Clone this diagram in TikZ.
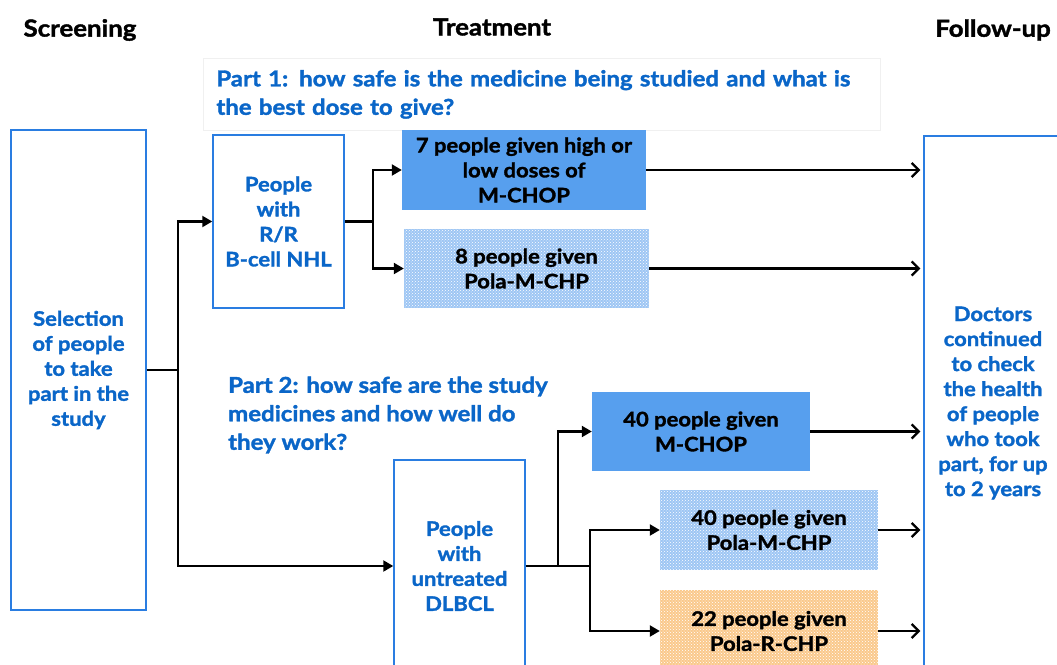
\documentclass[tikz,border=0pt]{standalone}
\usepackage{fontspec}
\setmainfont{Lato}[FakeStretch=1.1, BoldFeatures={FakeBold=1.6}]
\usetikzlibrary{arrows.meta,patterns}
\definecolor{tblue}{HTML}{0A66C8}
\definecolor{bord}{HTML}{2A7DE1}
\definecolor{fillb}{HTML}{579FEE}
\definecolor{hatchb}{HTML}{9EC6F4}
\definecolor{hatcho}{HTML}{FAC98C}
\tikzset{
  boxfont/.style={font=\bfseries\fontsize{20}{25}\selectfont},
  outbox/.style={draw=bord, line width=1.5pt, fill=white, text=tblue, boxfont, align=center, inner sep=0pt},
  solidbox/.style={fill=fillb, text=black, boxfont, align=center, inner sep=0pt},
  hatchbox/.style={fill=#1, postaction={pattern=crosshatch dots, pattern color=white}, text=black, boxfont, align=center, inner sep=0pt},
  header/.style={font=\bfseries\fontsize{23.5}{26}\selectfont, text=black},
  parttext/.style={font=\bfseries\fontsize{21.8}{28.5}\selectfont, text=tblue, align=left},
  conn/.style={line width=2.2pt, -{Triangle[length=10pt,width=11pt]}},
  fuconn/.style={line width=2.2pt, -{Straight Barb[length=7pt,width=14pt,line width=2.2pt]}, shorten >=3pt},
  plain/.style={line width=2.2pt}
}
\begin{document}
\begin{tikzpicture}[x=1pt,y=-1pt]
\clip (0,0) rectangle (1057,664);
\fill[white] (0,0) rectangle (1057,664);
% headers
\node[header] (hs) at (80,30) {Screening};
\node[header] (ht) at (492,27) {Treatment};
\node[header] (hf) at (993,30) {Follow-up};
% part 1 caption
\node[parttext, draw=black!6, line width=0.8pt, anchor=north west, minimum width=677, minimum height=72, text width=651, inner xsep=13pt, inner ysep=0pt] (part1) at (203,58) {Part 1: how safe is the medicine being studied and what is\\the best dose to give?};
% part 2 caption
\node[parttext, anchor=west, inner sep=0pt] (part2) at (228,415) {Part 2: how safe are the study\\medicines and how well do\\they work?};
% boxes
\node[outbox, minimum width=135, minimum height=480] (scr) at (78.5,370) {Selection\\of people\\to take\\part in the\\study};
\node[outbox, minimum width=131, minimum height=173] (rr) at (278.5,221.5) {People\\with\\R/R\\B-cell NHL};
\node[solidbox, minimum width=244, minimum height=80] (m1) at (524,170) {7 people given high or\\low doses of\\M-CHOP};
\node[hatchbox=hatchb, minimum width=245, minimum height=79] (p1) at (526.5,268.5) {8 people given\\Pola-M-CHP};
\node[outbox, minimum width=138, minimum height=534] (fu) at (993,403) {Doctors\\continued\\to check\\the health\\of people\\who took\\part, for up\\to 2 years};
\node[outbox, minimum width=131, minimum height=212] (dl) at (459.5,566) {People\\with\\untreated\\DLBCL};
\node[solidbox, minimum width=218, minimum height=79] (m2) at (701,431.5) {40 people given\\M-CHOP};
\node[hatchbox=hatchb, minimum width=218, minimum height=80] (p2) at (769,530) {40 people given\\Pola-M-CHP};
\node[hatchbox=hatcho, minimum width=218, minimum height=82] (r2) at (769,631) {22 people given\\Pola-R-CHP};
% junctions
\coordinate (j1) at (178,370);
\coordinate (j2) at (373,221.5);
\coordinate (j3) at (558,566);
\coordinate (j4) at (590,566);
% connectors
\draw[plain] (scr.east) -- (j1);
\draw[conn] (j1) |- (rr.west);
\draw[conn] (j1) |- (dl.west);
\draw[plain] (rr.east) -- (j2);
\draw[conn] (j2) |- (m1.west);
\draw[conn] (j2) |- (p1.west);
\draw[plain] (dl.east) -- (j4);
\draw[conn] (j3) |- (m2.west);
\draw[conn] (j4) |- (p2.west);
\draw[conn] (j4) |- (r2.west);
\draw[fuconn] (m1.east) -- (m1.east -| fu.west);
\draw[fuconn] (p1.east) -- (p1.east -| fu.west);
\draw[fuconn] (m2.east) -- (m2.east -| fu.west);
\draw[fuconn] (p2.east) -- (p2.east -| fu.west);
\draw[fuconn] (r2.east) -- (r2.east -| fu.west);
\end{tikzpicture}
\end{document}
